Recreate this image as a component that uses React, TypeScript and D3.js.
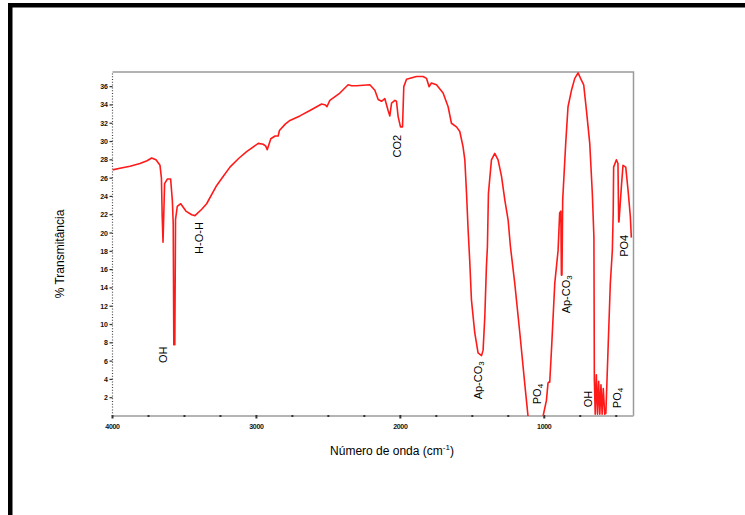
import React, { useRef, useEffect } from 'react';
import * as d3 from 'd3';

// FTIR spectrum: wavenumber (cm-1) and % transmittance
const wavenumbers = [
  4000, 3940, 3878, 3809, 3760, 3728, 3698, 3670, 3660, 3655, 3649, 3643, 3638, 3619, 3596,
  3584, 3578, 3574, 3567, 3562, 3550, 3526, 3490, 3450, 3427, 3380, 3346, 3276, 3230, 3184,
  3120, 3068, 2987, 2953, 2935, 2925, 2900, 2870, 2849, 2840, 2800, 2767, 2698, 2628, 2547,
  2520, 2510, 2490, 2420, 2363, 2339, 2304, 2212, 2177, 2154, 2131, 2108, 2085, 2073, 2061,
  2038, 2027, 2015, 1999, 1985, 1976, 1957, 1888, 1842, 1818, 1800, 1784, 1749, 1703, 1668,
  1645, 1610, 1587, 1564, 1552, 1540, 1529, 1518, 1506, 1483, 1460, 1436, 1425, 1413, 1402,
  1395, 1388, 1367, 1344, 1321, 1297, 1274, 1251, 1235, 1205, 1170, 1136, 1113, 1100, 1020,
  1008, 985, 974, 968, 962, 950, 927, 904, 893, 885, 881, 877, 872, 851, 835,
  811, 788, 765, 742, 726, 707, 684, 666, 655, 652, 646, 638, 630, 622, 614,
  606, 598, 590, 580, 572, 557, 541, 527, 521, 518, 499, 488, 483, 481, 464,
  453, 434, 418, 402, 395,
];
const transmittance = [
  26.9, 27.1, 27.3, 27.6, 27.9, 28.2, 28.0, 27.4, 26.0, 22.0, 19.0, 22.5, 25.4, 25.9, 25.9,
  23.5, 21.0, 7.8, 7.8, 21.5, 22.9, 23.2, 22.4, 22.0, 21.9, 22.6, 23.2, 25.2, 26.2, 27.2,
  28.2, 28.9, 29.8, 29.7, 29.5, 29.1, 30.3, 30.6, 30.6, 31.2, 31.9, 32.3, 32.8, 33.4, 34.1,
  34.0, 33.8, 34.5, 35.3, 36.2, 36.1, 36.1, 36.2, 35.6, 34.6, 34.4, 34.7, 33.4, 32.8, 34.2,
  34.5, 34.4, 32.7, 31.6, 31.6, 36.0, 36.8, 37.1, 37.1, 36.9, 36.0, 36.4, 36.2, 35.3, 33.8,
  32.0, 31.6, 31.1, 29.4, 28.0, 24.3, 20.3, 17.0, 12.7, 9.1, 6.9, 6.6, 7.2, 10.9, 16.3,
  18.5, 24.3, 28.0, 28.7, 28.0, 26.2, 23.6, 21.4, 18.5, 14.5, 9.1, 3.6, 0.0, -0.5, -0.5,
  0.0, 1.7, 3.6, 3.7, 3.7, 7.2, 14.5, 18.1, 22.2, 22.4, 15.4, 15.4, 23.6, 29.8, 33.8,
  35.6, 36.9, 37.5, 36.7, 36.2, 33.4, 29.8, 24.3, 19.5, 4.0, 0.2, 4.5, 0.2, 3.8, 0.2,
  3.4, 0.2, 3.0, 0.2, 0.3, 7.2, 14.5, 18.1, 22.2, 27.2, 28.0, 27.6, 21.2, 21.2, 25.1,
  27.4, 27.2, 24.7, 21.8, 19.5,
];

const xMajorTicks = [4000, 3000, 2000, 1000];
const yTicks = [2, 4, 6, 8, 10, 12, 14, 16, 18, 20, 22, 24, 26, 28, 30, 32, 34, 36];

// band labels: main text, subscript, wavenumber and %T of the label centre
const bandLabels = ['OH', 'H-O-H', 'CO2', 'Ap-CO', 'PO', 'Ap-CO', 'OH', 'PO', 'PO4'];
const bandSubs = ['', '', '', '3', '4', '3', '', '4', ''];
const bandWn = [3649, 3399, 2024, 1462, 1052, 851, 698, 497, 448];
const bandT = [6.7, 19.45, 29.5, 3.9, 2.4, 13.3, 1.86, 1.97, 18.6];

const W = 745;
const H = 515;

const App = () => {
  const svgRef = useRef<SVGSVGElement | null>(null);

  useEffect(() => {
    if (!svgRef.current) return;
    const svg = d3.select(svgRef.current);
    svg.selectAll('*').remove();

    const margin = { top: 72, right: 111.5, bottom: 99, left: 112.5 };
    const x0 = margin.left;
    const x1 = W - margin.right;
    const y0 = H - margin.bottom;
    const y1 = margin.top;

    const x = d3.scaleLinear().domain([4000, 380]).range([x0, x1]);
    const y = d3.scaleLinear().domain([0, 37.6]).range([y0, y1]);

    svg.append('rect').attr('width', W).attr('height', H).attr('fill', '#fff');

    // black frame, top and left
    svg.append('rect').attr('x', 8).attr('y', 3).attr('width', W - 8).attr('height', 4.5).attr('fill', '#000');
    svg.append('rect').attr('x', 8).attr('y', 3).attr('width', 4.5).attr('height', H - 3).attr('fill', '#000');

    // plot frame top/right
    svg.append('path')
      .attr('d', `M${x0},${y1}H${x1}V${y0}`)
      .attr('fill', 'none')
      .attr('stroke', '#9a9a9a')
      .attr('stroke-width', 1.5);

    // bottom axis line
    svg.append('line')
      .attr('x1', x0).attr('x2', x1).attr('y1', y0).attr('y2', y0)
      .attr('stroke', '#b4b4b4')
      .attr('stroke-width', 2);

    // minor x ticks every 250
    const minor = d3.range(4000, 380, -250);
    svg.append('g').selectAll('rect')
      .data(minor)
      .enter()
      .append('rect')
      .attr('x', (d) => x(d) - 1)
      .attr('y', y0 - 1)
      .attr('width', 2)
      .attr('height', (d) => (d % 1000 === 0 ? 3.5 : 2))
      .attr('fill', '#333');

    svg.append('g').selectAll('text')
      .data(xMajorTicks)
      .enter()
      .append('text')
      .attr('x', (d) => x(d))
      .attr('y', y0 + 13)
      .attr('text-anchor', 'middle')
      .style('font-family', '"Liberation Sans", Arial, sans-serif')
      .style('font-size', '7px')
      .style('font-weight', 'bold')
      .style('letter-spacing', '-0.3px')
      .attr('fill', '#111')
      .text((d) => String(d));

    // left axis: dotted line with ticks
    svg.append('line')
      .attr('x1', x0).attr('x2', x0).attr('y1', y0).attr('y2', y1)
      .attr('stroke', '#444')
      .attr('stroke-width', 1.2)
      .attr('stroke-dasharray', '1,1.8');

    svg.append('g').selectAll('line')
      .data(yTicks)
      .enter()
      .append('line')
      .attr('x1', x0 - 3).attr('x2', x0)
      .attr('y1', (d) => y(d)).attr('y2', (d) => y(d))
      .attr('stroke', '#333')
      .attr('stroke-width', 1.2);

    svg.append('g').selectAll('text')
      .data(yTicks)
      .enter()
      .append('text')
      .attr('x', x0 - 5)
      .attr('y', (d) => y(d) + 2.5)
      .attr('text-anchor', 'end')
      .style('font-family', '"Liberation Sans", Arial, sans-serif')
      .style('font-size', '7px')
      .style('font-weight', 'bold')
      .style('letter-spacing', '-0.3px')
      .attr('fill', '#111')
      .text((d) => String(d));

    // spectrum
    svg.append('clipPath').attr('id', 'plotClip')
      .append('rect')
      .attr('x', x0).attr('y', y1)
      .attr('width', x1 - x0).attr('height', y0 - y1);

    const pts = wavenumbers.map((w, i) => [w, transmittance[i]] as [number, number]);
    const line = d3.line<[number, number]>()
      .x((d) => x(d[0]))
      .y((d) => y(d[1]));

    svg.append('path')
      .datum(pts)
      .attr('clip-path', 'url(#plotClip)')
      .attr('d', line)
      .attr('fill', 'none')
      .attr('stroke', '#ff1a1a')
      .attr('stroke-width', 1.6)
      .attr('stroke-linejoin', 'round');

    // band labels, rotated
    bandLabels.forEach((lab, i) => {
      const t = svg.append('text')
        .attr('transform', `translate(${x(bandWn[i])},${y(bandT[i])}) rotate(-90)`)
        .attr('text-anchor', 'middle')
        .attr('dominant-baseline', 'central')
        .style('font-family', '"Liberation Sans", Arial, sans-serif')
        .style('font-size', '11px')
        .attr('fill', '#000');
      t.append('tspan').text(lab);
      if (bandSubs[i]) {
        t.append('tspan')
          .attr('dy', 3)
          .style('font-size', '8px')
          .text(bandSubs[i]);
      }
    });

    // axis titles
    const xt = svg.append('text')
      .attr('x', 392)
      .attr('y', 455)
      .attr('text-anchor', 'middle')
      .style('font-family', '"Liberation Sans", Arial, sans-serif')
      .style('font-size', '12px')
      .attr('fill', '#000');
    xt.append('tspan').text('Número de onda (cm');
    xt.append('tspan').attr('dy', -5).style('font-size', '8px').text('-1');
    xt.append('tspan').attr('dy', 5).text(')');

    svg.append('text')
      .attr('transform', `translate(64,${(y0 + y1) / 2 + 10}) rotate(-90)`)
      .attr('text-anchor', 'middle')
      .style('font-family', '"Liberation Sans", Arial, sans-serif')
      .style('font-size', '12px')
      .attr('fill', '#000')
      .text('% Transmitância');

    return () => {
      svg.selectAll('*').remove();
    };
  }, []);

  return (
    <svg
      ref={svgRef}
      width={W}
      height={H}
      style={{ position: 'absolute', left: 0, top: 0, display: 'block' }}
    />
  );
};

export default App;
